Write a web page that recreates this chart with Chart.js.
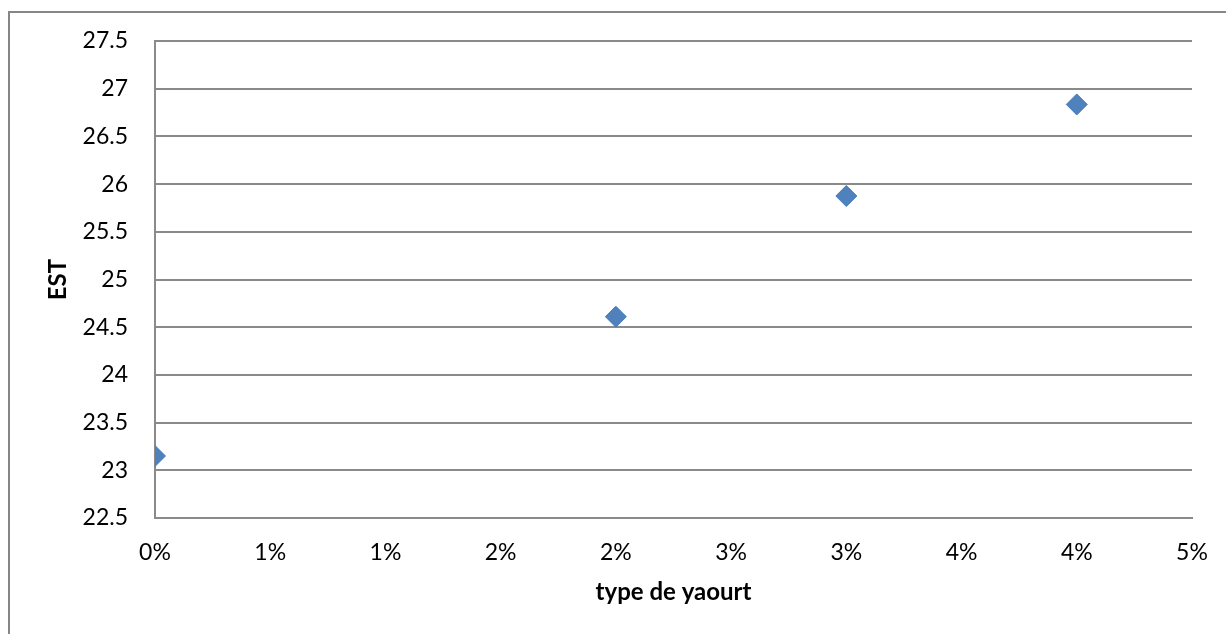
<!DOCTYPE html>
<html>
<head>
<meta charset="utf-8">
<title>EST / type de yaourt</title>
<script src="https://cdn.jsdelivr.net/npm/chart.js@4/dist/chart.umd.min.js"></script>
<style>
  html, body { margin: 0; padding: 0; background: #fff; overflow: hidden; }
  #wrap { position: absolute; left: 0; top: 0; width: 1226px; height: 634px; }
</style>
</head>
<body>
<div id="wrap"><canvas id="chart" width="1226" height="634"></canvas></div>
<script>
// taux de matière grasse (fraction) et extrait sec total mesuré
const fatRates = [0, 0.02, 0.03, 0.04];
const estValues = [23.15, 24.61, 25.875, 26.835];

// graduations de l'axe x (affichées arrondies comme dans Excel)
const xTickValues = [0, 0.005, 0.01, 0.015, 0.02, 0.025, 0.03, 0.035, 0.04, 0.045];
const xTickLabels = ['0%', '1%', '1%', '2%', '2%', '3%', '3%', '4%', '4%', '5%'];
const yTickLabels = ['22.5', '23', '23.5', '24', '24.5', '25', '25.5', '26', '26.5', '27', '27.5'];

const FONT = 'Lato, "Open Sans", sans-serif';
const GRID = '#8a8a8a';

// cadre extérieur gris du graphique
const frame = {
  id: 'frame',
  beforeDraw(chart) {
    const ctx = chart.ctx;
    ctx.save();
    ctx.fillStyle = '#fff';
    ctx.fillRect(0, 0, chart.width, chart.height);
    ctx.strokeStyle = '#868686';
    ctx.lineWidth = 2;
    ctx.strokeRect(9, 12, chart.width + 20, chart.height + 20);
    ctx.restore();
  }
};

new Chart(document.getElementById('chart'), {
  type: 'scatter',
  data: {
    datasets: [{
      label: 'EST',
      data: fatRates.map((x, i) => ({ x: x, y: estValues[i] })),
      pointStyle: 'rectRot',
      pointRadius: 10.5,
      pointHoverRadius: 10.5,
      backgroundColor: '#4F81BD',
      borderColor: '#4A7EBB',
      borderWidth: 1
    }]
  },
  options: {
    responsive: false,
    animation: false,
    layout: { padding: { top: 41, right: 34, bottom: 0, left: 0 } },
    plugins: {
      legend: { display: false },
      tooltip: { enabled: false }
    },
    scales: {
      x: {
        type: 'linear',
        min: 0,
        max: 0.045,
        afterBuildTicks(scale) {
          scale.ticks = xTickValues.map(v => ({ value: v }));
        },
        afterFit(scale) {
          scale.height = 116;
          // les marges fixes suffisent pour les étiquettes extrêmes
          scale.paddingLeft = 0;
          scale.paddingRight = 0;
        },
        grid: { display: false, drawTicks: false },
        border: { display: true, color: GRID, width: 2 },
        ticks: {
          padding: 21,
          maxRotation: 0,
          autoSkip: false,
          color: '#000',
          font: { family: FONT, size: 23 },
          callback: (v, i) => xTickLabels[i]
        },
        title: {
          display: true,
          text: 'type de yaourt',
          color: '#000',
          font: { family: FONT, size: 24, weight: 'bold' },
          padding: { top: 0, bottom: 27 }
        }
      },
      y: {
        min: 22.5,
        max: 27.5,
        afterBuildTicks(scale) {
          scale.ticks = yTickLabels.map(t => ({ value: parseFloat(t) }));
        },
        afterFit(scale) {
          scale.width = 155;
          scale.paddingTop = 0;
          scale.paddingBottom = 0;
        },
        grid: { color: GRID, lineWidth: 2, drawTicks: false },
        border: { display: true, color: GRID, width: 2 },
        ticks: {
          padding: 27,
          autoSkip: false,
          color: '#000',
          font: { family: FONT, size: 23 },
          callback: (v, i) => yTickLabels[i]
        },
        title: {
          display: true,
          text: 'EST',
          color: '#000',
          font: { family: FONT, size: 24, weight: 'bold' },
          padding: { top: 44, bottom: 0 }
        }
      }
    }
  },
  plugins: [frame]
});
</script>
</body>
</html>
